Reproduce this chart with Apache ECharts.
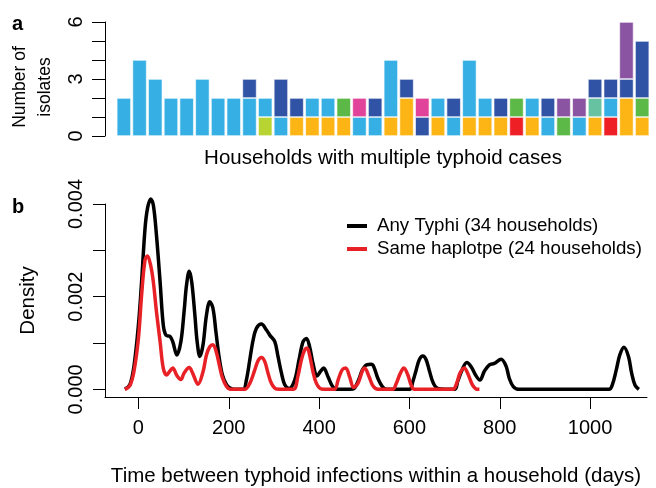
<!DOCTYPE html>
<html><head><meta charset="utf-8">
<script src="https://cdn.jsdelivr.net/npm/echarts@6/dist/echarts.min.js"></script>
<style>html,body{margin:0;padding:0;background:#fff}#c{width:656px;height:488px}</style>
</head><body><div id="c"></div>
<script>
// ---- Panel a: isolates per household (34 households), stacked by haplotype colour ----
const households = Array.from({length: 34}, (_, i) => 'H' + (i + 1));
const orangeIso   = [0,0,0,0,0,0,0,0,0,0,0,1,1,1,1,0,0,1,2,0,1,0,1,1,1,0,1,0,0,0,1,0,2,1];
const redIso      = [0,0,0,0,0,0,0,0,0,0,0,0,0,0,0,0,0,0,0,0,0,0,0,0,0,1,0,0,0,0,0,1,0,0];
const limeIso     = [0,0,0,0,0,0,0,0,0,1,0,0,0,0,0,0,0,0,0,0,0,0,0,0,0,0,0,0,0,0,0,0,0,0];
const skyIso      = [2,4,3,2,2,3,2,2,2,1,1,0,1,1,0,1,1,3,0,0,1,1,3,1,0,0,1,1,0,1,0,1,0,0];
const tealIso     = [0,0,0,0,0,0,0,0,0,0,0,0,0,0,0,0,0,0,0,0,0,0,0,0,0,0,0,0,0,0,1,0,0,0];
const greenIso    = [0,0,0,0,0,0,0,0,0,0,0,0,0,0,1,0,0,0,0,0,0,0,0,0,0,1,0,0,1,0,0,0,0,1];
const navyIso     = [0,0,0,0,0,0,0,0,1,0,2,1,0,0,0,0,1,0,1,1,0,1,0,0,1,0,0,1,0,0,1,1,1,3];
const pinkIso     = [0,0,0,0,0,0,0,0,0,0,0,0,0,0,0,1,0,0,0,1,0,0,0,0,0,0,0,0,0,0,0,0,0,0];
const purpleIso   = [0,0,0,0,0,0,0,0,0,0,0,0,0,0,0,0,0,0,0,0,0,0,0,0,0,0,0,0,1,1,0,0,3,0];
const isoTicks  = [0,1,2,3,4,5,6];
const isoLabels = [0,3,6];

// ---- Panel b: density of time between infections ----
const dayAny  = [-30,-19,-10,0,7,14.6,20,27,33,40,48,55,61,70,76,85,94,101,106.5,112.5,118,125,130,136,143,150.6,158,165,171.6,179,186,195,203,215,232,239,246.6,254,261.5,272.4,283.5,290.8,301.9,309,316.7,324,333.6,346,355.6,364.5,372,379,386.5,395.3,402.7,410,419.8,429.4,438,475,486,496,505,515.4,521,530,540,549,600,607.6,615,622.3,630,637,644.5,653,663,700,706.9,716.6,726.9,736.6,747.6,756,765.9,777,788,803,814,821,830,843,1042,1049,1058,1065.7,1075,1085,1092,1099.6,1108];
const densAny = [0,0.0001,0.00049,0.00139,0.00232,0.00347,0.0039,0.00411,0.00398,0.00332,0.00232,0.00139,0.00117,0.00114,0.00103,0.00074,0.00103,0.00167,0.00225,0.00255,0.00232,0.0016,0.00103,0.00071,0.00096,0.0016,0.00189,0.00175,0.00124,0.00067,0.00031,0.0001,0.00003,0,0,0.0002,0.00064,0.00107,0.00132,0.00141,0.00128,0.00117,0.00103,0.00071,0.00035,0.0001,0.00002,0.0002,0.00064,0.00103,0.0011,0.00092,0.00056,0.00029,0.00038,0.00046,0.00027,0.00007,0,0.00001,0.00017,0.00042,0.00053,0.00054,0.00049,0.00024,0.00006,0,0,0.00017,0.00042,0.00065,0.00072,0.00064,0.00039,0.00013,0.00002,0,0.00017,0.00042,0.00058,0.00049,0.00029,0.0002,0.00039,0.00053,0.00056,0.00065,0.0005,0.00024,0.00006,0,0,0.00009,0.00042,0.00074,0.00091,0.00071,0.00035,0.00009,0];
const daySame  = [-30,-19,-10,0,7,14.6,20,27,33,40,48,55,62.5,70,76,85,94,101,112.5,120,132,143,150.6,158,165,172,179,186,195,203,235,246.6,257.6,265,272.4,279.8,287,294.5,305.6,343,353,360.8,368,373.3,379,386.5,394,405,434,442,451,459,467.6,476.4,486,496,501,510.7,519.5,530,563,571,580,587.7,596.5,604,611,696,704.6,712,721.6,730.5,740,751,755];
const densSame = [0,0.00008,0.00038,0.0011,0.00203,0.00279,0.00288,0.00268,0.00232,0.00167,0.00103,0.00046,0.00031,0.0004,0.00046,0.0003,0.00021,0.00035,0.00047,0.00035,0.00011,0.00038,0.00074,0.00092,0.00096,0.00082,0.00053,0.00025,0.00006,0,0,0.00013,0.00042,0.00062,0.00069,0.0006,0.00035,0.00013,0.00001,0,0.00028,0.00064,0.00085,0.00089,0.00074,0.00038,0.00013,0.00001,0,0.0002,0.00042,0.00046,0.00027,0.00004,0.00013,0.0004,0.00046,0.00027,0.00007,0,0,0.00013,0.00035,0.00046,0.00031,0.00009,0,0,0.00013,0.00035,0.00046,0.00031,0.00009,0,0];
const dayTicks  = [0,200,400,600,800,1000];
const densTicks = [0,0.001,0.002,0.003,0.004];
const densLabels = [0,0.002,0.004];

const FONT = '"Liberation Sans", Arial, Helvetica, sans-serif';
const chart = echarts.init(document.getElementById('c'), null, {renderer: 'canvas'});

const barDefs = [
  ['orange', orangeIso, '#FDB515'],
  ['red', redIso, '#EE2025'],
  ['lime', limeIso, '#B8D432'],
  ['sky', skyIso, '#35AFE4'],
  ['teal', tealIso, '#66C2A1'],
  ['green', greenIso, '#5CB947'],
  ['navy', navyIso, '#3053A5'],
  ['pink', pinkIso, '#E1439A'],
  ['purple', purpleIso, '#8B54A2']
];
const barSeries = barDefs.map(([name, arr, col]) => ({
  name, type: 'bar', stack: 'iso', xAxisIndex: 0, yAxisIndex: 0,
  barCategoryGap: '10%',
  data: arr.map(v => v === 0 ? null : v),
  itemStyle: {color: col, borderColor: '#fff', borderWidth: 0.6},
  emphasis: {disabled: true}, animation: false
}));

const axisBlack = {show: true, onZero: false, lineStyle: {color: '#000', width: 1}};
const option = {
  animation: false,
  textStyle: {fontFamily: FONT},
  graphic: [
    {type: 'text', left: 12, top: 14, style: {text: 'a', font: 'bold 20px ' + FONT, fill: '#000'}},
    {type: 'text', left: 12, top: 197, style: {text: 'b', font: 'bold 20px ' + FONT, fill: '#000'}}
  ],
  legend: {
    data: ['Any Typhi (34 households)', 'Same haplotpe (24 households)'],
    orient: 'vertical', left: 342, top: 211,
    icon: 'rect', itemWidth: 20, itemHeight: 4, itemGap: 3,
    textStyle: {fontSize: 18.7, color: '#000', fontFamily: FONT, lineHeight: 20, padding: [0, 0, 0, 5]}
  },
  grid: [
    {left: 116, right: 6, top: 22, height: 114},
    {left: 105, right: 9, top: 204, height: 193}
  ],
  xAxis: [
    {type: 'category', gridIndex: 0, data: households,
     axisLine: {show: false}, axisTick: {show: false}, axisLabel: {show: false},
     name: 'Households with multiple typhoid cases', nameLocation: 'middle', nameGap: 12,
     nameTextStyle: {fontSize: 20.5, color: '#000', fontFamily: FONT}},
    {type: 'value', gridIndex: 1, min: -74, max: 1126,
     axisLine: axisBlack,
     axisTick: {show: true, inside: false, length: 12, lineStyle: {color: '#000'}, customValues: dayTicks},
     axisLabel: {fontSize: 20, color: '#000', margin: 21, fontFamily: FONT, customValues: dayTicks,
       formatter: v => String(v)},
     splitLine: {show: false},
     name: 'Time between typhoid infections within a household (days)', nameLocation: 'middle', nameGap: 69,
     nameTextStyle: {fontSize: 20.5, color: '#000', fontFamily: FONT}}
  ],
  yAxis: [
    {type: 'value', gridIndex: 0, min: 0, max: 6, interval: 1, offset: 11,
     axisLine: axisBlack,
     axisTick: {show: true, inside: false, length: 13, lineStyle: {color: '#000'}, customValues: isoTicks},
     axisLabel: {rotate: 90, fontSize: 20, color: '#000', margin: 19, fontFamily: FONT, customValues: isoLabels},
     splitLine: {show: false},
     name: 'Number of\nisolates', nameLocation: 'middle', nameRotate: 90, nameGap: 47,
     nameTextStyle: {fontSize: 17.5, color: '#000', lineHeight: 25, fontFamily: FONT, padding: [0, 16, 0, 0]}},
    {type: 'value', gridIndex: 1, min: -0.000165, max: 0.004,
     axisLine: axisBlack,
     axisTick: {show: true, inside: false, length: 12, lineStyle: {color: '#000'}, customValues: densTicks},
     axisLabel: {rotate: 90, fontSize: 20, color: '#000', margin: 19, fontFamily: FONT, customValues: densLabels,
       formatter: v => Number(v).toFixed(3)},
     splitLine: {show: false},
     name: 'Density', nameLocation: 'middle', nameRotate: 90, nameGap: 66,
     nameTextStyle: {fontSize: 20.5, color: '#000', fontFamily: FONT}}
  ],
  series: barSeries.concat([
    {name: 'Any Typhi (34 households)', type: 'line', xAxisIndex: 1, yAxisIndex: 1,
     data: dayAny.map((d, i) => [d, densAny[i]]), showSymbol: false, symbol: 'none',
     smooth: 0.35, clip: false, color: '#000', lineStyle: {color: '#000', width: 3.5}, z: 3},
    {name: 'Same haplotpe (24 households)', type: 'line', xAxisIndex: 1, yAxisIndex: 1,
     data: daySame.map((d, i) => [d, densSame[i]]), showSymbol: false, symbol: 'none',
     smooth: 0.35, clip: false, color: '#E82127', lineStyle: {color: '#E82127', width: 3.5}, z: 4}
  ])
};
chart.setOption(option);
</script>
</body></html>
